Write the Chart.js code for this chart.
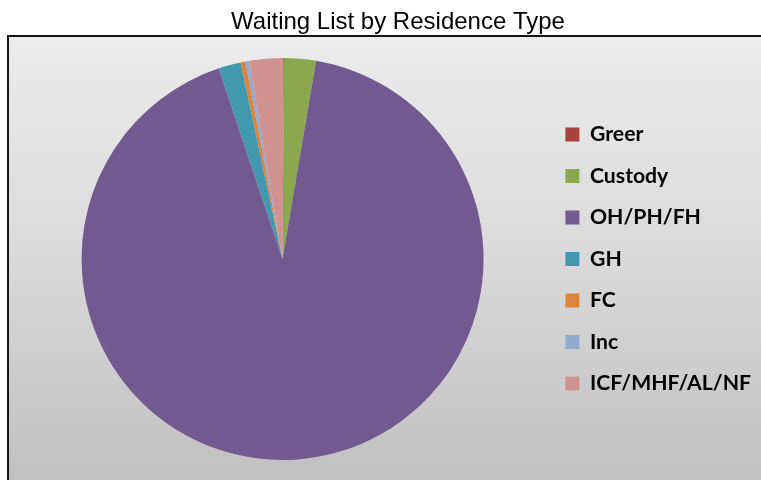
<!DOCTYPE html>
<html>
<head>
<meta charset="utf-8">
<script src="https://cdn.jsdelivr.net/npm/chart.js@4/dist/chart.umd.min.js"></script>
<style>
  html, body { margin: 0; padding: 0; background: #ffffff; }
  #wrap { position: relative; width: 761px; height: 480px; overflow: hidden; }
  #plotbg { position: absolute; left: 7px; top: 35px; width: 780px; height: 470px;
            border-left: 2px solid #141414; border-top: 2px solid #141414;
            background: linear-gradient(to bottom, #ececec 0%, #d8d8d8 50%, #bdbdbd 100%); }
  #c { position: absolute; left: 0; top: 0; }
</style>
</head>
<body>
<div id="wrap">
  <div id="plotbg"></div>
  <canvas id="c" width="761" height="480"></canvas>
</div>
<script>
const categories = ["Greer", "Custody", "OH/PH/FH", "GH", "FC", "Inc", "ICF/MHF/AL/NF"];
const values = [1, 26, 935, 18, 4, 3, 27];
const colors = ["#A8433F", "#8BA84F", "#725990", "#4298AF", "#DB843D", "#93A9CF", "#D09291"];
const chartTitle = "Waiting List by Residence Type";

// invisible spacer box between pie area and legend
const spacerPlugin = {
  id: 'spacer',
  beforeInit(chart) {
    const box = {
      position: 'right', weight: 500, fullSize: false,
      options: { stackWeight: 1 },
      width: 0, height: 0, left: 0, top: 0, right: 0, bottom: 0,
      isHorizontal() { return false; },
      update(maxW, maxH) { this.width = 15; this.height = maxH; return this; },
      draw() {},
      getPadding() { return {left: 0, right: 0, top: 0, bottom: 0}; }
    };
    Chart.layouts.addBox(chart, box);
  }
};

new Chart(document.getElementById('c'), {
  type: 'pie',
  data: {
    labels: categories,
    datasets: [{
      data: values,
      backgroundColor: colors,
      borderWidth: 0
    }]
  },
  options: {
    responsive: false,
    animation: false,
    layout: { padding: { left: 35, right: 0, top: 0, bottom: 20 } },
    plugins: {
      title: {
        display: true,
        text: chartTitle,
        color: '#000000',
        font: { family: 'Liberation Sans', size: 24, weight: 'normal' },
        padding: { top: 7.5, bottom: 21.7 }
      },
      legend: {
        position: 'right',
        align: 'center',
        fullSize: false,
        maxWidth: 320,
        labels: {
          color: '#000000',
          font: { family: 'Lato', size: 21.2, weight: 'bold' },
          boxWidth: 14,
          boxHeight: 14,
          padding: 20.3
        }
      },
      tooltip: { enabled: false }
    }
  },
  plugins: [spacerPlugin]
});
</script>
</body>
</html>
